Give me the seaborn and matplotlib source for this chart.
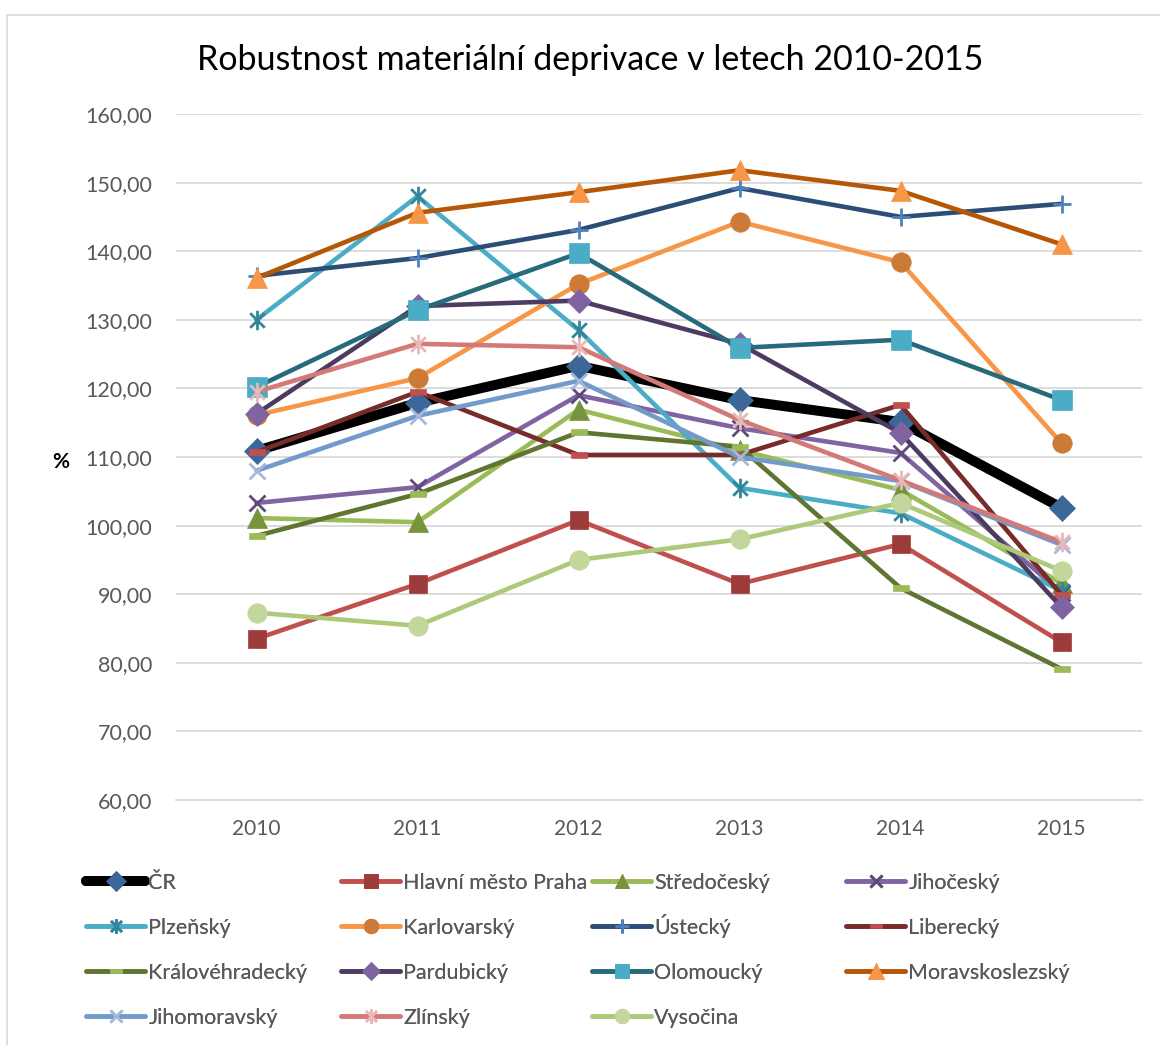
import numpy as np
import pandas as pd
import seaborn as sns
import matplotlib.pyplot as plt
from matplotlib.patches import Rectangle
from matplotlib.path import Path
from matplotlib.ticker import FuncFormatter, FixedLocator

sns.set_style("white")
plt.rcParams['font.family'] = ['Lato', 'DejaVu Sans']

years = ['2010', '2011', '2012', '2013', '2014', '2015']

# values (%)
cr = [110.9, 117.9, 123.3, 118.3, 115.1, 102.6]
praha = [83.5, 91.5, 100.8, 91.5, 97.3, 83.0]
stredocesky = [101.1, 100.5, 116.9, 111.0, 105.2, 91.6]
jihocesky = [103.3, 105.6, 119.0, 114.2, 110.6, 90.2]
plzensky = [130.0, 148.0, 128.5, 105.5, 101.8, 90.5]
karlovarsky = [116.1, 121.5, 135.2, 144.3, 138.4, 112.0]
ustecky = [136.4, 139.0, 143.1, 149.2, 145.0, 146.9]
liberecky = [110.7, 119.5, 110.3, 110.3, 117.6, 89.9]
kralovehradecky = [98.5, 104.6, 113.6, 111.5, 90.9, 79.1]
pardubicky = [116.3, 132.0, 132.8, 126.5, 113.5, 88.1]
olomoucky = [120.2, 131.4, 139.7, 125.9, 127.1, 118.3]
moravskoslezsky = [136.1, 145.6, 148.6, 151.8, 148.8, 141.0]
jihomoravsky = [108.0, 116.0, 121.1, 110.0, 106.5, 97.2]
zlinsky = [119.5, 126.5, 126.0, 115.4, 106.6, 97.6]
vysocina = [87.3, 85.4, 95.0, 98.0, 103.3, 93.4]

names = ['ČR', 'Hlavní město Praha', 'Středočeský', 'Jihočeský',
         'Plzeňský', 'Karlovarský', 'Ústecký', 'Liberecký',
         'Královéhradecký', 'Pardubický', 'Olomoucký', 'Moravskoslezský',
         'Jihomoravský', 'Zlínský', 'Vysočina']
series = [cr, praha, stredocesky, jihocesky, plzensky, karlovarsky, ustecky,
          liberecky, kralovehradecky, pardubicky, olomoucky, moravskoslezsky,
          jihomoravsky, zlinsky, vysocina]

# short dash marker (small horizontal bar)
dash = Path([(-1, -0.4), (1, -0.4), (1, 0.4), (-1, 0.4), (-1, -0.4)],
            [Path.MOVETO, Path.LINETO, Path.LINETO, Path.LINETO, Path.CLOSEPOLY])
# excel style star: an x with a vertical stroke through it
star = Path([(0, -1), (0, 1), (-0.75, -0.75), (0.75, 0.75), (-0.75, 0.75), (0.75, -0.75)],
            [Path.MOVETO, Path.LINETO, Path.MOVETO, Path.LINETO, Path.MOVETO, Path.LINETO])

# line colour, marker, marker colour, marker size, line width
styles = [
    ('#000000', 'D', '#3C6899', 13, 7.2),
    ('#C0504D', 's', '#9C3B39', 13, 3.3),
    ('#9BBB59', '^', '#77933C', 14, 3.3),
    ('#8064A2', 'x', '#5F497A', 11, 3.3),
    ('#4BACC6', star, '#31859C', 14, 3.3),
    ('#F79646', 'o', '#CC7A35', 14, 3.3),
    ('#2C4D75', '+', '#4F81BD', 13, 3.3),
    ('#772C2A', dash, '#C0504D', 11, 3.3),
    ('#5F7530', dash, '#9BBB59', 11, 3.3),
    ('#4D3B62', 'D', '#8064A2', 12, 3.3),
    ('#276A7C', 's', '#4BACC6', 14, 3.3),
    ('#B65708', '^', '#F79646', 15, 3.3),
    ('#729ACA', 'x', '#A7B9DA', 11, 3.3),
    ('#D37A78', star, '#E6B9B8', 14, 3.3),
    ('#AFC97A', 'o', '#C3D69B', 14, 3.3),
]

fig = plt.figure(figsize=(11.6, 10.45), dpi=100)
ax = fig.add_axes([176 / 1160, 1 - 800 / 1045, 966 / 1160, 686 / 1045])

x = np.arange(len(years))
handles = []
for name, vals, (lc, mk, mc, ms, lw) in zip(names, series, styles):
    df = pd.DataFrame({'year': x, 'value': vals})
    line_kws = dict(color=lc, linewidth=lw, marker=mk, markersize=ms,
                    markerfacecolor=mc, markeredgecolor=mc, label=name)
    if mk in ('x', '+') or mk is star:
        line_kws['markeredgewidth'] = 2.0
    else:
        line_kws['markeredgewidth'] = 0.5
    sns.lineplot(data=df, x='year', y='value', ax=ax, legend=False,
                 solid_capstyle='round', **line_kws)
    handles.append(ax.lines[-1])

ax.set_xlim(-0.5, 5.5)
ax.set_ylim(60, 160)
ax.set_yticks(np.arange(60, 161, 10))
ax.yaxis.set_major_formatter(FuncFormatter(lambda v, p: f'{v:.2f}'.replace('.', ',')))
ax.set_xticks(x)
ax.set_xticklabels(years)
ax.xaxis.set_minor_locator(FixedLocator(np.arange(-0.5, 6, 1)))
ax.tick_params(axis='x', which='major', length=0, pad=14, labelsize=15, labelcolor='#595959')
ax.tick_params(axis='x', which='minor', length=5, width=1.2, color='#D9D9D9', direction='out')
ax.tick_params(axis='y', length=0, pad=17, labelsize=15.5, labelcolor='#595959')
ax.grid(axis='y', color='#D9D9D9', linewidth=1.3)
ax.set_axisbelow(True)
for s in ['top', 'right', 'left']:
    ax.spines[s].set_visible(False)
ax.spines['bottom'].set_color('#D9D9D9')
ax.spines['bottom'].set_linewidth(1.3)
ax.set_xlabel('')
ax.set_ylabel('%', rotation=0, fontsize=15, fontweight='bold', color='#000000',
              labelpad=0, va='center', ha='center')
ax.yaxis.set_label_coords(-0.119, 0.493)

fig.text(590 / 1160, 1 - 60 / 1045, 'Robustnost materiální deprivace v letech 2010-2015',
         ha='center', va='center', fontsize=24.5, color='#000000')

# outer chart border
fig.patches.append(Rectangle((7 / 1160, -0.1), 1.2, 1 - 15 / 1045 + 0.1,
                             transform=fig.transFigure, fill=False,
                             edgecolor='#D9D9D9', linewidth=1.2))

# legend: four equal-width columns, rows filled left to right
col_x = [86, 341, 592, 846]
row_y = [883, 928, 973, 1018]
for i, (h, name) in enumerate(zip(handles, names)):
    r, c = divmod(i, 4)
    yy = row_y[r] - (2 if name == 'Ústecký' else 0)
    leg = fig.legend([h], [name], loc='center left',
                     bbox_to_anchor=(col_x[c] / 1160, 1 - yy / 1045),
                     frameon=False, fontsize=15.5, handlelength=2.75,
                     handletextpad=0.15, borderpad=0, borderaxespad=0,
                     markerscale=0.75, labelcolor='#595959')
    fig.add_artist(leg)

fig.savefig('out.png', dpi=100)
